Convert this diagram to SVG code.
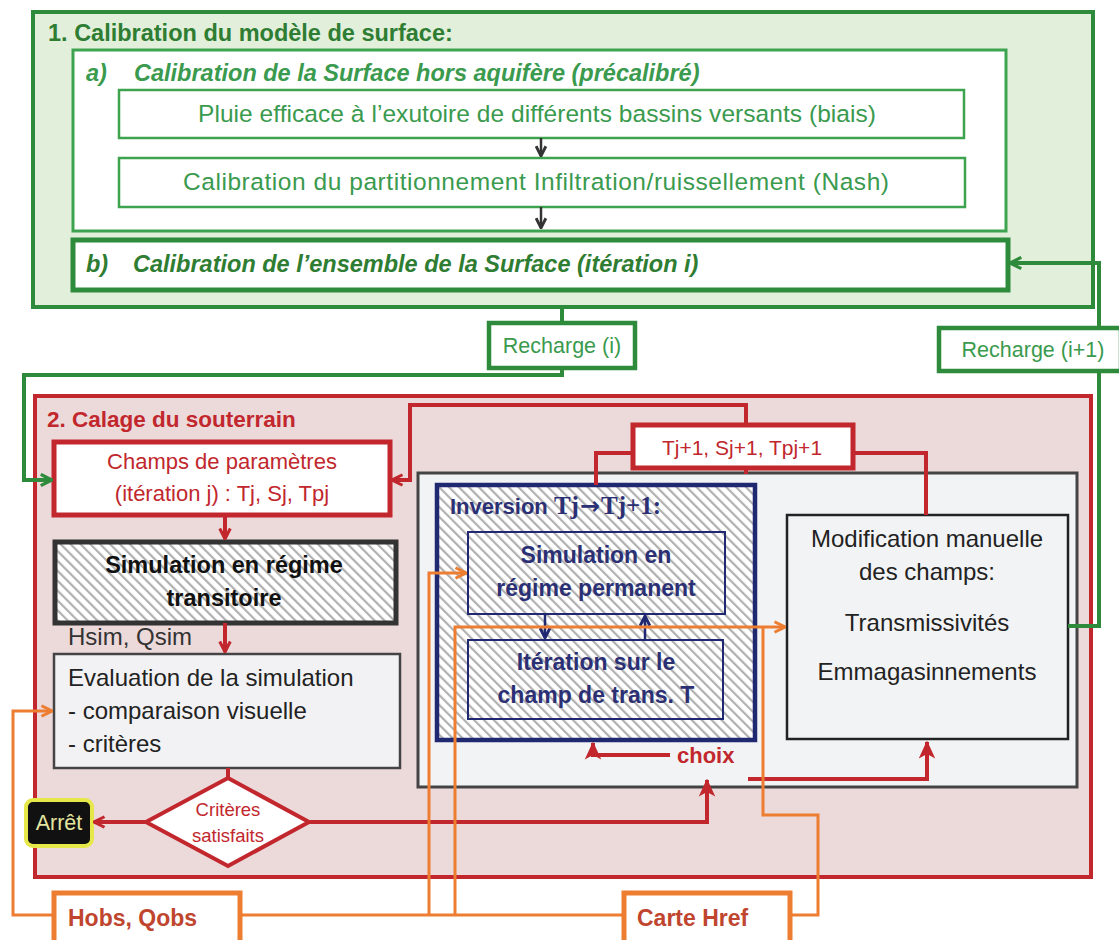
<svg xmlns="http://www.w3.org/2000/svg" width="1119" height="940" viewBox="0 0 1119 940">
<style>
text{font-family:"Liberation Sans",Arial,sans-serif}
.b{font-weight:bold}
.bi{font-weight:bold;font-style:italic}
.c{text-anchor:middle}
.gd{fill:#2e7d32}
.gl{fill:#3a9a4e}
.rd{fill:#c1272d}
.nv{fill:#2b3075}
.dk{fill:#222}
.ob{fill:#c0452e}
.sf{font-family:"Liberation Serif","Times New Roman",serif;font-weight:bold;font-size:25px}
.ln{fill:none;stroke-linejoin:miter}
.lg{stroke:#2e8b3c;stroke-width:4}
.lr{stroke:#c1272d;stroke-width:4}
.lo{stroke:#ed7d31;stroke-width:3}
.ln2{stroke:#1f2870;stroke-width:2.5}
.lk{stroke:#333;stroke-width:2.5}
</style>
<defs>
<pattern id="hatch" patternUnits="userSpaceOnUse" width="7" height="7" patternTransform="rotate(-45)">
<rect width="7" height="7" fill="#fff"/>
<line x1="1" y1="0" x2="1" y2="7" stroke="#b0b0b0" stroke-width="2.4"/>
</pattern>
<marker id="mg" viewBox="0 0 12 12" refX="11" refY="6" markerWidth="15" markerHeight="15" markerUnits="userSpaceOnUse" orient="auto"><path d="M2,1.5 L11,6 L2,10.5" fill="none" stroke="#2e8b3c" stroke-width="2.6"/></marker>
<marker id="mr" viewBox="0 0 12 12" refX="11" refY="6" markerWidth="14" markerHeight="14" markerUnits="userSpaceOnUse" orient="auto"><path d="M2,1.5 L11,6 L2,10.5" fill="none" stroke="#c1272d" stroke-width="2.6"/></marker>
<marker id="mrf" viewBox="0 0 12 12" refX="11" refY="6" markerWidth="18" markerHeight="18" markerUnits="userSpaceOnUse" orient="auto"><path d="M0,0.5 L12,6 L0,11.5 L3,6 Z" fill="#c1272d"/></marker>
<marker id="mo" viewBox="0 0 12 12" refX="11" refY="6" markerWidth="14" markerHeight="14" markerUnits="userSpaceOnUse" orient="auto"><path d="M2,1.5 L11,6 L2,10.5" fill="none" stroke="#ed7d31" stroke-width="2.6"/></marker>
<marker id="mn" viewBox="0 0 12 12" refX="11" refY="6" markerWidth="13" markerHeight="13" markerUnits="userSpaceOnUse" orient="auto"><path d="M2,1.5 L11,6 L2,10.5" fill="none" stroke="#1f2870" stroke-width="2.6"/></marker>
<marker id="mk" viewBox="0 0 12 12" refX="11" refY="6" markerWidth="13" markerHeight="13" markerUnits="userSpaceOnUse" orient="auto"><path d="M2,1.5 L11,6 L2,10.5" fill="none" stroke="#333" stroke-width="2.6"/></marker>
</defs>
<rect width="1119" height="940" fill="#fff"/>

<g id="surface">
<rect x="33" y="12" width="1060" height="295" fill="#e2efda" stroke="#2e8b3c" stroke-width="4"/>
<text x="48" y="41" class="b gd" font-size="23.5">1. Calibration du modèle de surface:</text>
</g>
<g id="surface-a">
<rect x="73" y="50" width="933" height="181" fill="#fff" stroke="#3da34e" stroke-width="3"/>
<text y="81" class="bi gl" font-size="23.5"><tspan x="86">a)</tspan><tspan x="134">Calibration de la Surface hors aquifère (précalibré)</tspan></text>
</g>
<g id="pluie">
<rect x="119" y="90" width="845" height="48" fill="#fff" stroke="#3da34e" stroke-width="2.5"/>
<text x="537" y="122" class="c gl" font-size="24.5" textLength="678">Pluie efficace à l’exutoire de différents bassins versants (biais)</text>
</g>
<g id="partition">
<rect x="119" y="158" width="846" height="49" fill="#fff" stroke="#3da34e" stroke-width="2.5"/>
<text x="536" y="190" class="c gl" font-size="24.5" textLength="706">Calibration du partitionnement Infiltration/ruissellement (Nash)</text>
</g>
<g id="surface-b">
<rect x="73" y="240" width="935" height="50" fill="#fff" stroke="#2e8b3c" stroke-width="5"/>
<text y="272" class="bi gd" font-size="23.5"><tspan x="86">b)</tspan><tspan x="133">Calibration de l’ensemble de la Surface (itération i)</tspan></text>
</g>

<g id="souterrain">
<rect x="35" y="396" width="1056" height="481" fill="#ecd9da" stroke="#c1272d" stroke-width="4"/>
<text x="47" y="427" class="b rd" font-size="22.5">2. Calage du souterrain</text>
</g>
<g id="champs">
<rect x="54" y="442" width="336" height="73" fill="#fff" stroke="#c1272d" stroke-width="5"/>
<text x="222" y="469" class="c rd" font-size="22">Champs de paramètres</text>
<text x="222" y="501" class="c rd" font-size="22">(itération j) : Tj, Sj, Tpj</text>
</g>
<g id="sim-transitoire">
<rect x="55" y="542" width="341" height="81" fill="url(#hatch)" stroke="#333" stroke-width="5"/>
<text x="224" y="573" class="c b" font-size="23.5" fill="#111">Simulation en régime</text>
<text x="224" y="606" class="c b" font-size="23.5" fill="#111">transitoire</text>
</g>
<g id="hsim">
<text x="68" y="645" font-size="24" fill="#333">Hsim, Qsim</text>
</g>
<g id="evaluation">
<rect x="54" y="654" width="346" height="114" fill="#f2f2f4" stroke="#444" stroke-width="2.5"/>
<text x="68" y="686" class="dk" font-size="24">Evaluation de la simulation</text>
<text x="68" y="719" class="dk" font-size="24">- comparaison visuelle</text>
<text x="68" y="752" class="dk" font-size="24">- critères</text>
</g>
<g id="criteres">
<polygon points="228,778 309,822 228,866 146,822" fill="#fff" stroke="#c1272d" stroke-width="4"/>
<text x="228" y="816" class="c rd" font-size="18.5">Critères</text>
<text x="228" y="842" class="c rd" font-size="18.5">satisfaits</text>
</g>
<g id="arret">
<rect x="26" y="800" width="66" height="46" rx="7" fill="#111" stroke="#e6e84a" stroke-width="4"/>
<text x="59" y="830" class="c" font-size="21.5" fill="#e4e6a0">Arrêt</text>
</g>
<g id="container">
<rect x="418" y="473" width="659" height="314" fill="#f2f3f5" stroke="#444" stroke-width="3"/>
</g>
<g id="inversion">
<rect x="437" y="485" width="318" height="255" fill="url(#hatch)" stroke="#1f2870" stroke-width="4.5"/>
<text x="450" y="514" class="nv"><tspan class="b" font-size="22">Inversion </tspan><tspan class="sf">Tj</tspan><tspan dx="1" font-family="'DejaVu Sans',sans-serif" font-weight="bold" font-size="24">→</tspan><tspan dx="1" class="sf">Tj+1:</tspan></text>
</g>
<g id="sim-permanent">
<rect x="468" y="532" width="257" height="82" fill="url(#hatch)" stroke="#1f2870" stroke-width="2"/>
<text x="596" y="563" class="c b nv" font-size="23">Simulation en</text>
<text x="596" y="596" class="c b nv" font-size="23">régime permanent</text>
</g>
<g id="iteration">
<rect x="468" y="640" width="255" height="79" fill="url(#hatch)" stroke="#1f2870" stroke-width="2"/>
<text x="596" y="670" class="c b nv" font-size="23">Itération sur le</text>
<text x="596" y="703" class="c b nv" font-size="23">champ de trans. T</text>
</g>
<g id="modification">
<rect x="787" y="515" width="281" height="224" fill="#f2f3f5" stroke="#222" stroke-width="2.5"/>
<text x="927" y="547" class="c dk" font-size="24">Modification manuelle</text>
<text x="927" y="580" class="c dk" font-size="24">des champs:</text>
<text x="927" y="631" class="c dk" font-size="24">Transmissivités</text>
<text x="927" y="680" class="c dk" font-size="24">Emmagasinnements</text>
</g>
<g id="choix">
<text x="677" y="763" class="b rd" font-size="22">choix</text>
</g>

<g id="connectors">
<path class="ln lk" d="M541,138 V156" marker-end="url(#mk)"/>
<path class="ln lk" d="M541,207 V228" marker-end="url(#mk)"/>
<path class="ln lg" d="M562,307 V323"/>
<path class="ln lg" d="M562,367 V375 H24 V480 H52" marker-end="url(#mg)"/>
<path class="ln lg" d="M1068,626 H1099 V263 H1010" marker-end="url(#mg)"/>
<path class="ln lr" d="M225,515 V539" marker-end="url(#mr)"/>
<path class="ln lr" d="M225,623 V652" marker-end="url(#mr)"/>
<path class="ln lr" d="M228,768 V778"/>
<path class="ln lr" d="M146,822 H94" marker-end="url(#mr)"/>
<path class="ln lr" d="M746,425 V405 H410 V480 H392" marker-end="url(#mr)"/>
<path class="ln lr" d="M633,453 H596 V485"/>
<path class="ln lr" d="M853,453 H926 V515"/>
<path class="ln lr" d="M746,468 V474"/>
<path class="ln lr" d="M309,822 H707 V780" stroke-width="4.5" marker-end="url(#mrf)"/>
<path class="ln lr" d="M670,755 H593 V743" stroke-width="4.5" marker-end="url(#mrf)"/>
<path class="ln lr" d="M748,779 H927 V742" stroke-width="4.5" marker-end="url(#mrf)"/>
<path class="ln ln2" d="M545,614 V638" marker-end="url(#mn)"/>
<path class="ln ln2" d="M645,640 V616" marker-end="url(#mn)"/>
<path class="ln lo" d="M54,915 H13 V711 H52" marker-end="url(#mo)"/>
<path class="ln lo" d="M240,915 H624"/>
<path class="ln lo" d="M429,915 V573 H466" marker-end="url(#mo)"/>
<path class="ln lo" d="M455,915 V627 H785" marker-end="url(#mo)"/>
<path class="ln lo" d="M790,915 H818 V815 H763 V627"/>
</g>

<g id="recharge-i">
<rect x="489" y="323" width="146" height="45" fill="#fff" stroke="#2e8b3c" stroke-width="4.5"/>
<text x="562" y="353" class="c gl" font-size="21.5">Recharge (i)</text>
</g>
<g id="recharge-i1">
<rect x="939" y="328" width="182" height="43" fill="#fff" stroke="#2e8b3c" stroke-width="4.5"/>
<text x="1033" y="357" class="c gl" font-size="21.5">Recharge (i+1)</text>
</g>
<g id="tj1">
<rect x="633" y="425" width="220" height="43" fill="#fff" stroke="#c1272d" stroke-width="5"/>
<text x="742" y="455" class="c rd" font-size="21">Tj+1, Sj+1, Tpj+1</text>
</g>
<g id="hobs">
<rect x="54" y="893" width="186" height="60" fill="#fff" stroke="#ed7d31" stroke-width="5"/>
<text x="68" y="926" class="b ob" font-size="23">Hobs, Qobs</text>
</g>
<g id="carte">
<rect x="624" y="893" width="166" height="60" fill="#fff" stroke="#ed7d31" stroke-width="5"/>
<text x="637" y="926" class="b ob" font-size="23">Carte Href</text>
</g>
</svg>
